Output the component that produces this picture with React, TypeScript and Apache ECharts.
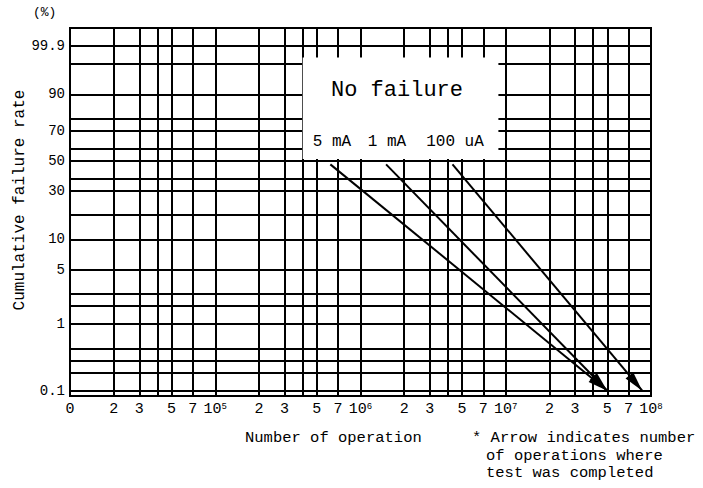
import React, { useEffect, useRef } from "react";
import * as echarts from "echarts";

const FONT = "'Liberation Mono', 'DejaVu Sans Mono', monospace";

// Ruling of this (hand-drawn) probability paper:
// cumulative failure rate (%) -> height on the paper, bottom edge = 0, top edge = PAPER_TOP
const PAPER_PERCENT = [0.1, 0.2, 0.3, 0.5, 1, 2, 3, 5, 10, 20, 30, 40, 50, 60, 70, 80, 90, 99, 99.9];
const PAPER_HEIGHT = [5.3, 23.3, 35.7, 47.7, 72, 90, 102, 126, 156.7, 181, 205.3, 217, 235.3, 247, 265.3, 277.7, 301.7, 332.7, 350.3];
const PAPER_TOP = 368;

// labelled rate ticks
const Y_TICK_RATES = [0.1, 1, 5, 10, 30, 50, 70, 90, 99.9];
const Y_TICK_TEXT = ["0.1", "1", "5", "10", "30", "50", "70", "90", "99.9"];

// number of operations axis (log)
const X_MIN = 1e4;
const X_MAX = 1e8;
const DECADES = [4, 5, 6, 7];
const RULED_MANTISSAS = [1, 2, 3, 4, 5, 7];
const LABELLED_MANTISSAS = [1, 2, 3, 5, 7];

// failure lines (start point -> arrow tip = number of operations where test was completed)
const CURRENTS = ["5 mA", "1 mA", "100 uA"];
const START_OPS = [6.2e5, 1.5e6, 4.3e6];
const START_RATE = [48, 48, 48];
const END_OPS = [5.0e7, 5.0e7, 8.7e7];
const END_RATE = [0.1, 0.1, 0.1];

// "No failure" box corners
const BOX_OPS = [4.0e5, 8.9e6];
const BOX_RATE = [51.5, 99.3];

function toPaper(p: number): number {
  const n = PAPER_PERCENT.length;
  if (p <= PAPER_PERCENT[0]) return PAPER_HEIGHT[0];
  if (p >= PAPER_PERCENT[n - 1]) return PAPER_HEIGHT[n - 1];
  for (let i = 0; i < n - 1; i++) {
    const a = PAPER_PERCENT[i];
    const b = PAPER_PERCENT[i + 1];
    if (p >= a && p <= b) {
      const t = (p - a) / (b - a);
      return PAPER_HEIGHT[i] + t * (PAPER_HEIGHT[i + 1] - PAPER_HEIGHT[i]);
    }
  }
  return PAPER_HEIGHT[n - 1];
}

const xRuled: number[] = [];
DECADES.forEach((d) => RULED_MANTISSAS.forEach((m) => xRuled.push(m * Math.pow(10, d))));
xRuled.push(X_MAX);

const xLabelled: number[] = [];
DECADES.forEach((d) => LABELLED_MANTISSAS.forEach((m) => xLabelled.push(m * Math.pow(10, d))));
xLabelled.push(X_MAX);

function xFormatter(v: number): string {
  if (Math.abs(v - X_MIN) < 1) return "0";
  const e = Math.floor(Math.log10(v) + 1e-9);
  const m = Math.round(v / Math.pow(10, e));
  if (m === 1) return "10{sup|" + e + "}";
  return String(m);
}

function yFormatter(v: number): string {
  for (let i = 0; i < Y_TICK_RATES.length; i++) {
    if (Math.abs(toPaper(Y_TICK_RATES[i]) - v) < 0.01) return Y_TICK_TEXT[i];
  }
  return "";
}

const BLACK = "#000";

export default function App() {
  const ref = useRef<HTMLDivElement>(null);
  useEffect(() => {
    const chart = echarts.init(ref.current!, null, { renderer: "svg" });
    const option: any = {
      animation: false,
      backgroundColor: "#fff",
      textStyle: { fontFamily: FONT, color: BLACK },
      grid: {
        left: 70,
        top: 28,
        width: 581,
        height: 368,
        show: true,
        borderColor: BLACK,
        borderWidth: 2,
        backgroundColor: "transparent",
      },
      xAxis: {
        type: "log",
        logBase: 10,
        min: X_MIN,
        max: X_MAX,
        axisLine: { show: false },
        axisTick: { show: false },
        splitLine: { show: false },
        minorSplitLine: { show: false },
        axisLabel: {
          customValues: xLabelled,
          formatter: xFormatter,
          fontFamily: FONT,
          fontSize: 15,
          color: BLACK,
          margin: 6,
          rich: {
            sup: { fontSize: 9, verticalAlign: "top", fontFamily: FONT, color: BLACK, padding: [0, 0, 6, 0] },
          },
        },
      },
      yAxis: {
        type: "value",
        min: 0,
        max: PAPER_TOP,
        axisLine: { show: false },
        axisTick: { show: false },
        splitLine: { show: false },
        axisLabel: {
          customValues: Y_TICK_RATES.map(toPaper),
          formatter: yFormatter,
          fontFamily: FONT,
          fontSize: 14,
          color: BLACK,
          margin: 5,
        },
      },
      series: [
        {
          type: "line",
          data: [],
          z: 2,
          silent: true,
          markLine: {
            silent: true,
            z: 2,
            symbol: ["none", "none"],
            label: { show: false },
            lineStyle: { color: BLACK, width: 2, type: "solid" },
            emphasis: { disabled: true },
            data: [
              ...xRuled.map((v) => ({ xAxis: v })),
              ...PAPER_PERCENT.map((p) => ({ yAxis: toPaper(p) })),
            ],
          },
        },
        {
          type: "line",
          data: [],
          z: 8,
          silent: true,
          markArea: {
            silent: true,
            z: 8,
            itemStyle: { color: "#fff", opacity: 1 },
            emphasis: { disabled: true },
            data: [
              [
                { coord: [BOX_OPS[0], toPaper(BOX_RATE[1])] },
                { coord: [BOX_OPS[1], toPaper(BOX_RATE[0])] },
              ],
            ],
          },
        },
        {
          type: "line",
          data: [],
          z: 12,
          silent: true,
          markLine: {
            silent: true,
            z: 12,
            label: { show: false },
            emphasis: { disabled: true },
            lineStyle: { color: BLACK, width: 2, type: "solid" },
            data: CURRENTS.map((name, i) => [
              { name, coord: [START_OPS[i], toPaper(START_RATE[i])], symbol: "none" },
              {
                coord: [END_OPS[i], toPaper(END_RATE[i])],
                symbol: "triangle",
                symbolSize: [10, 20],
                symbolOffset: [0, "50%"],
                itemStyle: { color: BLACK },
              },
            ]),
          },
        },
      ],
      graphic: [
        { type: "text", left: 33, top: 6, z: 20, style: { text: "(%)", font: "13px " + FONT, fill: BLACK } },
        {
          type: "text",
          x: 20,
          y: 200,
          z: 20,
          rotation: Math.PI / 2,
          style: {
            text: "Cumulative failure rate",
            font: "16px " + FONT,
            fill: BLACK,
            align: "center",
            verticalAlign: "middle",
          },
        },
        {
          type: "text",
          x: 397,
          y: 90,
          z: 20,
          style: { text: "No failure", font: "22px " + FONT, fill: BLACK, align: "center", verticalAlign: "middle" },
        },
        {
          type: "text",
          x: 332,
          y: 142,
          z: 20,
          style: { text: CURRENTS[0], font: "16px " + FONT, fill: BLACK, align: "center", verticalAlign: "middle" },
        },
        {
          type: "text",
          x: 387,
          y: 142,
          z: 20,
          style: { text: CURRENTS[1], font: "16px " + FONT, fill: BLACK, align: "center", verticalAlign: "middle" },
        },
        {
          type: "text",
          x: 455,
          y: 142,
          z: 20,
          style: { text: CURRENTS[2], font: "16px " + FONT, fill: BLACK, align: "center", verticalAlign: "middle" },
        },
        {
          type: "text",
          x: 245,
          y: 438,
          z: 20,
          style: { text: "Number of operation", font: "15.5px " + FONT, fill: BLACK, verticalAlign: "middle" },
        },
        {
          type: "text",
          x: 472,
          y: 438,
          z: 20,
          style: { text: "* Arrow indicates number", font: "15.5px " + FONT, fill: BLACK, verticalAlign: "middle" },
        },
        {
          type: "text",
          x: 486,
          y: 456,
          z: 20,
          style: { text: "of operations where", font: "15.5px " + FONT, fill: BLACK, verticalAlign: "middle" },
        },
        {
          type: "text",
          x: 486,
          y: 473,
          z: 20,
          style: { text: "test was completed", font: "15.5px " + FONT, fill: BLACK, verticalAlign: "middle" },
        },
      ],
    };
    chart.setOption(option);
    return () => chart.dispose();
  }, []);
  return (
    <div
      ref={ref}
      style={{ position: "fixed", left: 0, top: 0, width: 703, height: 488, background: "#fff" }}
    />
  );
}
